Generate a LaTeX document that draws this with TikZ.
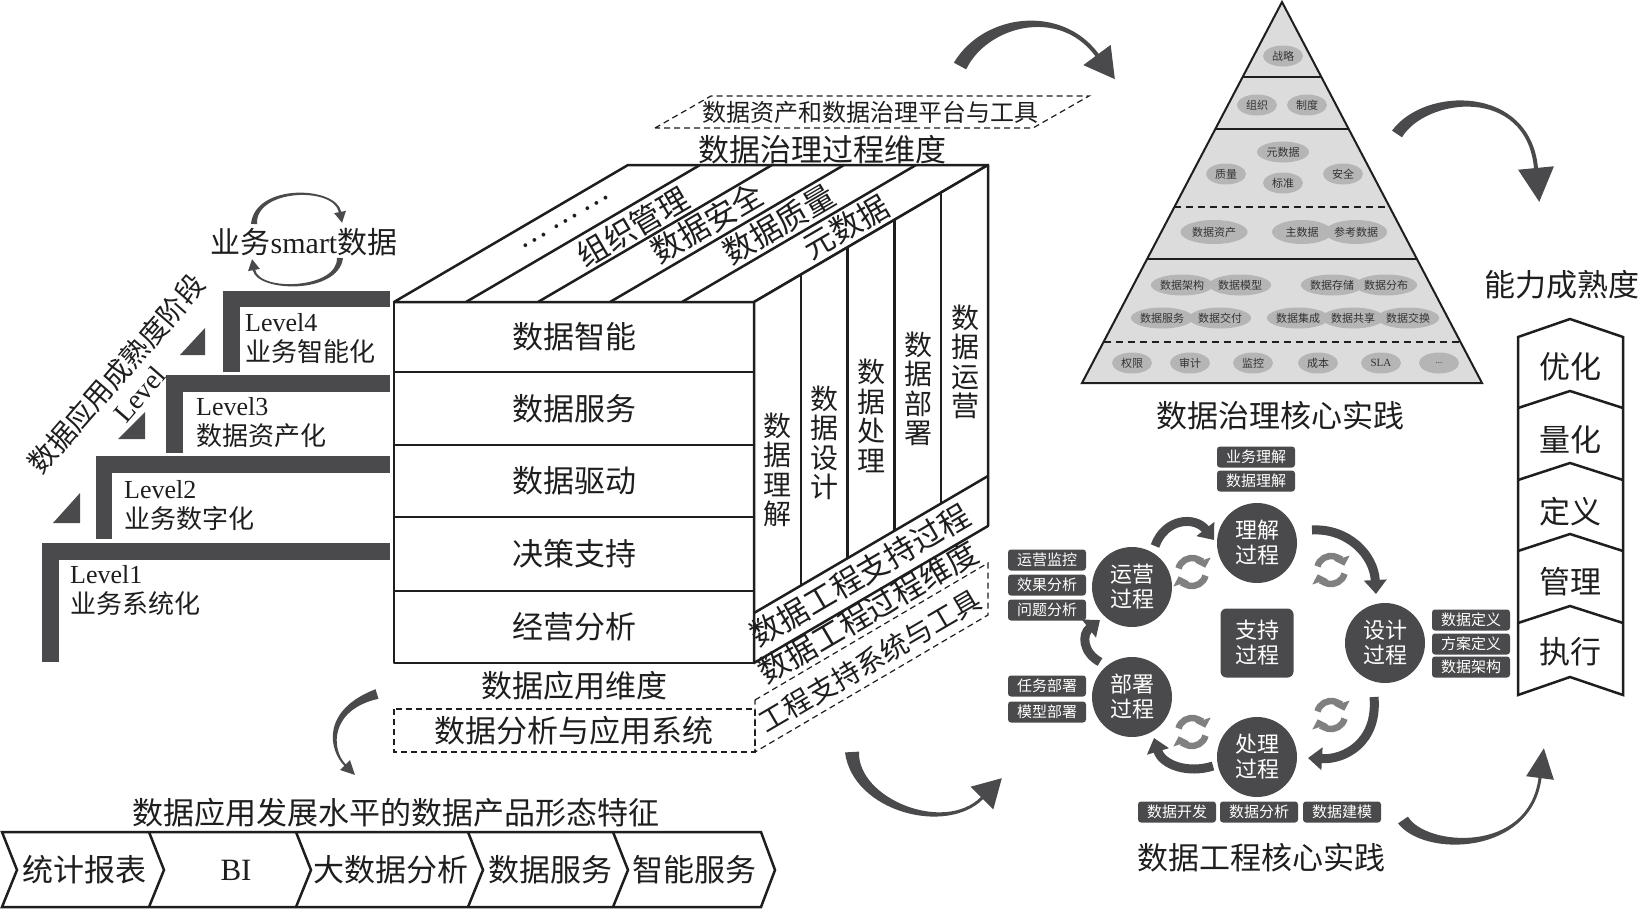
\documentclass[tikz,border=0pt]{standalone}
\usepackage{fontspec}
\setmainfont{Liberation Serif}
\newfontfamily\cjk{Noto Sans CJK SC}
\usetikzlibrary{calc,shapes.geometric,arrows.meta}
\definecolor{dk}{HTML}{4A4A4C}
\definecolor{rf}{HTML}{808080}
\definecolor{pyr}{HTML}{DCDCDC}
\definecolor{ell}{HTML}{B5B5B5}
\definecolor{ln}{HTML}{1E1E1E}
% tapered curved arrow: S, C1, C2, E(head base), half-width start, half-width end, head half-width, head length
\newcommand\swoosh[8]{%
 \fill[dk] ($(#1)!#5!90:(#2)$) .. controls ($(#2)!#5!90:(#3)$) and ($(#3)!#6!90:(#4)$) .. ($(#4)!#6!-90:(#3)$)
   -- ($(#4)!#7!-90:(#3)$) -- ($(#4)!#8!180:(#3)$) -- ($(#4)!#7!90:(#3)$) -- ($(#4)!#6!90:(#3)$)
   .. controls ($(#3)!#6!-90:(#4)$) and ($(#2)!#5!-90:(#3)$) .. ($(#1)!#5!-90:(#2)$) -- cycle;}
\newcommand\refreshicon[1]{%
 \draw[rfa] (#1) ++(-165:14) arc (-165:-18:14);
 \draw[rfa] (#1) ++(15:14) arc (15:162:14);}
\begin{document}
\begin{tikzpicture}[x=1pt,y=-1pt,
  cube/.style={draw=ln, line width=2.5pt, line join=round},
  dsh/.style={draw=ln, line width=1.2pt, dash pattern=on 6pt off 4pt},
  big/.style={inner sep=0, text=ln, font=\cjk\fontsize{31}{34}\selectfont},
  mid/.style={inner sep=0, text=ln, font=\cjk\fontsize{28}{30}\selectfont},
  vt/.style={inner sep=0, text=ln, align=center, font=\cjk\fontsize{28}{29.5}\selectfont},
  lvl/.style={anchor=west, align=left, inner sep=0, text=ln, font=\fontsize{26}{30}\selectfont},
  el/.style={ellipse, fill=ell, inner sep=0, minimum width=40pt, minimum height=21pt, text=black!80, font=\cjk\fontsize{11}{12}\selectfont},
  el4/.style={el, minimum width=60pt},
  proc/.style={circle, fill=dk, minimum size=80pt, inner sep=0, text=white, align=center, font=\cjk\fontsize{22}{25}\selectfont},
  tag/.style={rectangle, rounded corners=3pt, fill=dk, text=white, minimum width=78pt, minimum height=21pt, inner sep=0, font=\cjk\fontsize{15}{16}\selectfont},
  cyc/.style={draw=dk, line width=9pt, -{Triangle[width=22pt,length=14pt]}},
  rfa/.style={draw=rf, line width=6.5pt, -{Triangle[width=16pt,length=8pt]}},
  frame/.style={draw=ln, line width=2.5pt, line join=miter}]
\fill[white] (0,0) rectangle (1642,911);
\useasboundingbox (0,0) rectangle (1642,911);

% ---------- staircase ----------
\fill[dk] (42,543) rectangle (390,560); \fill[dk] (42,543) rectangle (59,662);
\fill[dk] (96,456) rectangle (390,473); \fill[dk] (96,456) rectangle (112,539);
\fill[dk] (166,375) rectangle (390,392); \fill[dk] (166,375) rectangle (183,453);
\fill[dk] (223,291) rectangle (390,307); \fill[dk] (223,291) rectangle (240,372);
\fill[dk] (53,523) -- (80,493) -- (80,523) -- cycle;
\fill[dk] (118,439) -- (145,412) -- (145,439) -- cycle;
\fill[dk] (180,355) -- (205,328) -- (205,355) -- cycle;
\node[lvl] (l4) at (245,339) {Level4\\{\cjk 业务智能化}};
\node[lvl] (l3) at (196,423) {Level3\\{\cjk 数据资产化}};
\node[lvl] (l2) at (124,506) {Level2\\{\cjk 业务数字化}};
\node[lvl] (l1) at (70,591) {Level1\\{\cjk 业务系统化}};
\node[rotate=49, align=center, inner sep=0, text=ln, font=\cjk\fontsize{28}{30}\selectfont] (mat) at (127,383) {数据应用成熟度阶段\\{\rmfamily Level}};
\node[inner sep=0, text=ln, font=\fontsize{30}{34}\selectfont] (smart) at (304,242) {{\cjk 业务}smart{\cjk 数据}};
\swoosh{254,224}{255,186}{335,186}{340,212}{3pt}{1.2pt}{6pt}{11pt}
\swoosh{340,258}{338,292}{258,292}{254,270}{3pt}{1.2pt}{6pt}{11pt}

% ---------- cube ----------
\coordinate (F1) at (394,302); \coordinate (F2) at (754,302);
\coordinate (F3) at (754,663); \coordinate (F4) at (394,663);
\coordinate (B1) at (628,165); \coordinate (B2) at (988,165); \coordinate (B3) at (988,526);
\coordinate (S1) at (754,613); \coordinate (S2) at (988,476);
\draw[cube, fill=white] (F1) rectangle (F3);
\foreach \y in {372,445,517,591} \draw[cube] (394,\y) -- (754,\y);
\draw[cube, fill=white] (F1) -- (B1) -- (B2) -- (F2) -- cycle;
\foreach \k in {1,...,4} \draw[cube] ($(F1)!\k/5!(F2)$) -- ($(B1)!\k/5!(B2)$);
\draw[cube, fill=white] (F2) -- (B2) -- (B3) -- (F3) -- cycle;
\draw[cube] (S1) -- (S2);
\foreach \k in {1,...,4} \draw[cube] ($(F2)!\k/5!(B2)$) -- ($(S1)!\k/5!(S2)$);

\node[big] (r1) at (574,337) {数据智能};
\node[big] (r2) at (574,409) {数据服务};
\node[big] (r3) at (574,481) {数据驱动};
\node[big] (r4) at (574,554) {决策支持};
\node[big] (r5) at (574,627) {经营分析};

\node[mid, rotate=30.35] (t0) at (565,222) {… … …};
\node[big, rotate=30.35] (t1) at (633,227) {组织管理};
\node[big, rotate=30.35] (t2) at (707,223) {数据安全};
\node[big, rotate=30.35] (t3) at (779,224) {数据质量};
\node[big, rotate=30.35] (t4) at (846,227) {元数据};

\node[vt] (c1) at (777,470) {数\\据\\理\\解};
\node[vt] (c2) at (824,443) {数\\据\\设\\计};
\node[vt] (c3) at (871,416) {数\\据\\处\\理};
\node[vt] (c4) at (918,389) {数\\据\\部\\署};
\node[vt] (c5) at (965,362) {数\\据\\运\\营};

\node[big, rotate=30.35] (sp) at (860,575) {数据工程支持过程};
\node[big, rotate=30.35] (ed) at (868,612) {数据工程过程维度};
\draw[dsh] (755,700) -- (988,563) -- (988,615) -- (755,752) -- cycle;
\node[mid, rotate=30.35] (et) at (870,661) {工程支持系统与工具};

\node[big] (gd) at (822,150) {数据治理过程维度};
\draw[dsh] (655,128) -- (711,96) -- (1089,96) -- (1033,128) -- cycle;
\node[inner sep=0, text=ln, font=\cjk\fontsize{24}{26}\selectfont] (gt) at (870,112) {数据资产和数据治理平台与工具};

\node[big] (ad) at (574,686) {数据应用维度};
\draw[dsh] (394,709) rectangle (755,752);
\node[big] (as) at (574,731) {数据分析与应用系统};

% ---------- product chevrons ----------
\node[big] (pf) at (396,813) {数据应用发展水平的数据产品形态特征};
\draw[frame] (2,832) -- (761,832) -- (775,870) -- (761,907) -- (2,907) -- (17,870) -- cycle;
\foreach \x in {149,296,468,613} \draw[frame] (\x,832) -- (\x+15,870) -- (\x,907);
\node[big] (p1) at (85,870) {统计报表};
\node[inner sep=0, text=ln, font=\fontsize{31}{34}\selectfont] (p2) at (236,870) {BI};
\node[big] (p3) at (391,870) {大数据分析};
\node[big] (p4) at (550,870) {数据服务};
\node[big] (p5) at (694,870) {智能服务};

% ---------- pyramid ----------
\coordinate (PA) at (1282,2); \coordinate (PL) at (1082,383); \coordinate (PR) at (1482,383);
\draw[fill=pyr, draw=ln, line width=2pt, line join=miter] (PA) -- (PL) -- (PR) -- cycle;
\foreach \t in {0.197,0.333,0.675} \draw[ln, line width=2pt] ($(PA)!\t!(PL)$) -- ($(PA)!\t!(PR)$);
\foreach \t in {0.538,0.892} \draw[ln, line width=1.5pt, dash pattern=on 7pt off 5pt] ($(PA)!\t!(PL)$) -- ($(PA)!\t!(PR)$);
\node[el] (e1) at (1283,56) {战略};
\node[el] (e2) at (1257,105) {组织};
\node[el] (e3) at (1307,105) {制度};
\node[el, minimum width=52pt] (e4) at (1283,152) {元数据};
\node[el] (e5) at (1226,174) {质量};
\node[el] (e6) at (1283,183) {标准};
\node[el] (e7) at (1343,174) {安全};
\node[el, minimum width=67pt, minimum height=24pt] (e8) at (1214,232) {数据资产};
\node[el, minimum width=60pt, minimum height=24pt] (e9) at (1302,232) {主数据};
\node[el, minimum width=62pt, minimum height=24pt] (e10) at (1356,232) {参考数据};
\node[el4] (e11) at (1182,285) {数据架构};
\node[el4] (e12) at (1240,285) {数据模型};
\node[el4] (e13) at (1332,285) {数据存储};
\node[el4] (e14) at (1386,285) {数据分布};
\node[el4] (e15) at (1162,318) {数据服务};
\node[el4] (e16) at (1220,318) {数据交付};
\node[el4] (e17) at (1298,318) {数据集成};
\node[el4] (e18) at (1353,318) {数据共享};
\node[el4] (e19) at (1408,318) {数据交换};
\node[el] (e20) at (1132,363) {权限};
\node[el] (e21) at (1190,363) {审计};
\node[el] (e22) at (1253,363) {监控};
\node[el] (e23) at (1318,363) {成本};
\node[el, font=\rmfamily\fontsize{11}{12}\selectfont] (e24) at (1381,363) {SLA};
\node[el, font=\rmfamily\fontsize{9}{10}\selectfont] (e25) at (1439,363) {...};
\node[big] (gc) at (1280,416) {数据治理核心实践};

% ---------- engineering cycle ----------
\node[proc] (und) at (1257,543) {理解\\过程};
\node[proc] (ops) at (1132,587) {运营\\过程};
\node[proc] (des) at (1385,643) {设计\\过程};
\node[proc] (dep) at (1132,697) {部署\\过程};
\node[proc] (pro) at (1257,757) {处理\\过程};
\node[rectangle, rounded corners=6pt, fill=dk, minimum width=73pt, minimum height=69pt, inner sep=0, text=white, align=center, font=\cjk\fontsize{22}{25}\selectfont] (spt) at (1257,643) {支持\\过程};
\node[tag] (g1) at (1256,457) {业务理解};
\node[tag] (g2) at (1256,481) {数据理解};
\node[tag] (g3) at (1047,560) {运营监控};
\node[tag] (g4) at (1047,585) {效果分析};
\node[tag] (g5) at (1047,610) {问题分析};
\node[tag] (g6) at (1047,686) {任务部署};
\node[tag] (g7) at (1047,712) {模型部署};
\node[tag] (g8) at (1177,812) {数据开发};
\node[tag] (g9) at (1259,812) {数据分析};
\node[tag] (g10) at (1342,812) {数据建模};
\node[tag] (g11) at (1471,620) {数据定义};
\node[tag] (g12) at (1471,644) {方案定义};
\node[tag] (g13) at (1471,667) {数据架构};
\draw[cyc] (1155,546) .. controls (1165,518) and (1195,516) .. (1214,540);
\draw[cyc] (1312,530) .. controls (1348,528) and (1374,555) .. (1376,594);
\draw[cyc] (1374,697) .. controls (1378,742) and (1345,760) .. (1308,758);
\draw[cyc] (1213,766) .. controls (1188,774) and (1162,765) .. (1154,738);
\draw[cyc] (1100,662) .. controls (1082,652) and (1082,634) .. (1100,620);
\refreshicon{1192,572}
\refreshicon{1331,570}
\refreshicon{1331,715}
\refreshicon{1192,732}
\node[big] (ec) at (1261,858) {数据工程核心实践};

% ---------- capability maturity ----------
\node[big] (cm) at (1562,285) {能力成熟度};
\draw[frame] (1518,337) -- (1570,319) -- (1623,337) -- (1623,695) -- (1570,677) -- (1518,695) -- cycle;
\foreach \a in {391,463,534,606} \draw[frame] (1518,\a+17) -- (1570,\a) -- (1623,\a+17);
\node[big] (m1) at (1570,367) {优化};
\node[big] (m2) at (1570,440) {量化};
\node[big] (m3) at (1570,512) {定义};
\node[big] (m4) at (1570,582) {管理};
\node[big] (m5) at (1570,652) {执行};

% ---------- big swoosh arrows ----------
\swoosh{960,66}{985,20}{1060,5}{1097,55}{7pt}{2pt}{17pt}{30pt}
\swoosh{1397,134}{1425,92}{1528,85}{1536,168}{6pt}{2pt}{18pt}{34pt}
\swoosh{1403,820}{1425,852}{1530,855}{1540,778}{6pt}{1.5pt}{14pt}{30pt}
\swoosh{852,752}{855,805}{945,835}{982,798}{7pt}{1.5pt}{16pt}{28pt}
\swoosh{377,694}{325,710}{330,750}{345,765}{5pt}{1pt}{7pt}{14pt}
\end{tikzpicture}
\end{document}
